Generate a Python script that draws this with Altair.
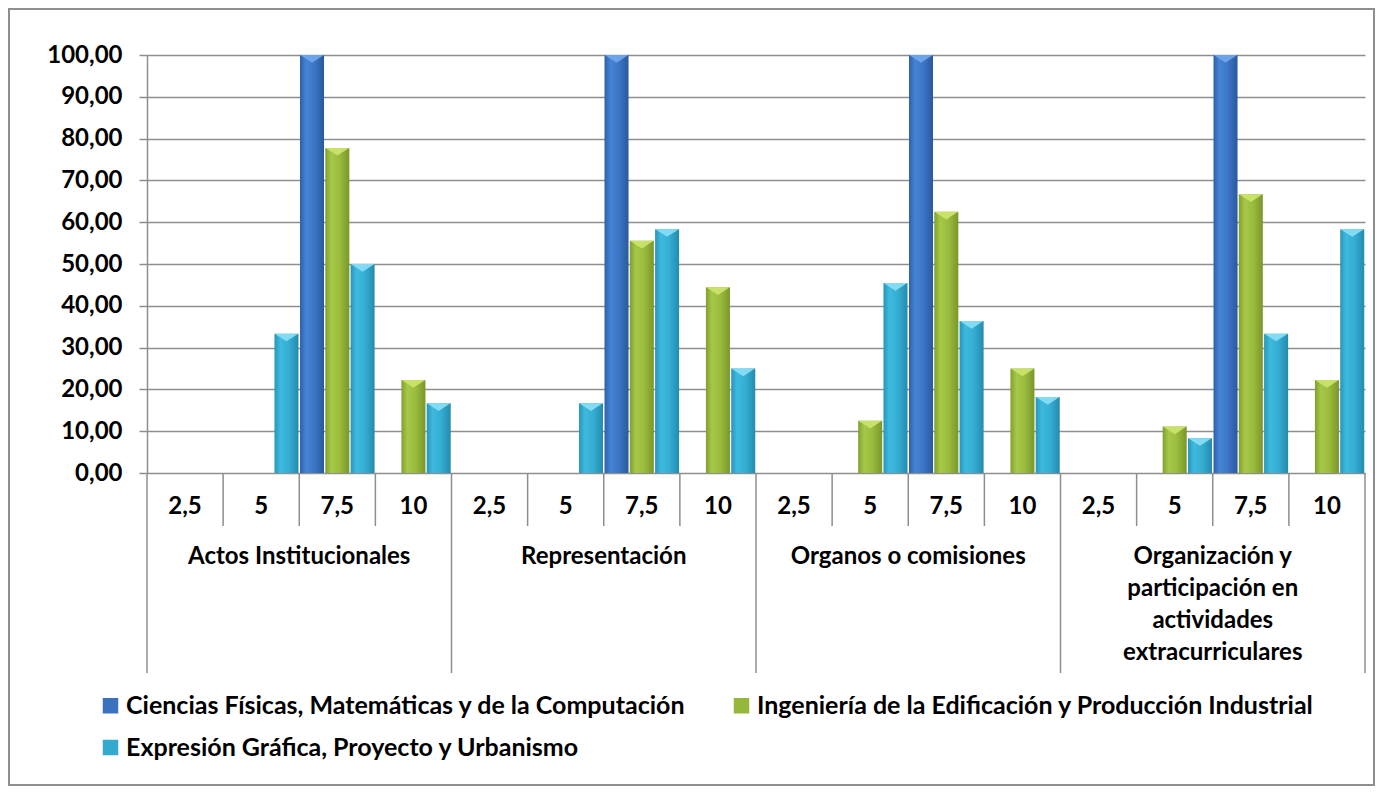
import altair as alt
import pandas as pd

groups = ["Actos Institucionales", "Representación", "Organos o comisiones",
          "Organización y participación en actividades extracurriculares"]
group_labels = ["Actos Institucionales", "Representación", "Organos o comisiones",
                "Organización y\nparticipación en\nactividades\nextracurriculares"]
scores = ["2,5", "5", "7,5", "10"]
series = ["Ciencias Físicas, Matemáticas y de la Computación",
          "Ingeniería de la Edificación y Producción Industrial",
          "Expresión Gráfica, Proyecto y Urbanismo"]

ciencias = [0, 0, 100, 0, 0, 0, 100, 0, 0, 0, 100, 0, 0, 0, 100, 0]
ingenieria = [0, 0, 77.78, 22.22, 0, 0, 55.56, 44.44, 0, 12.5, 62.5, 25, 0, 11.11, 66.67, 22.22]
expresion = [0, 33.33, 50, 16.67, 0, 16.67, 58.33, 25, 0, 45.45, 36.36, 18.18, 0, 8.33, 33.33, 58.33]

y_ticks = [0, 10, 20, 30, 40, 50, 60, 70, 80, 90, 100]

legend_colors = ["#3B72C0", "#95B73B", "#33AACF"]
top_colors = ["#6EA6EA", "#C9E36C", "#86DDF3"]
gradients = [
    ["#2F5FA8", "#4584D4", "#3B76C5", "#2B589C"],
    ["#809F2E", "#A6C848", "#9ABB3D", "#7A962B"],
    ["#2796BA", "#3EBADE", "#34ADD2", "#248BAD"],
]

slots = [f"{gi}|{s}" for gi in range(len(groups)) for s in scores]
rows = []
for name, vals in zip(series, [ciencias, ingenieria, expresion]):
    for slot, v in zip(slots, vals):
        rows.append({"slot": slot, "series": name, "value": v})
df = pd.DataFrame(rows)

sub_df = pd.DataFrame({"slot": slots, "label": scores * len(groups)})
grp_df = pd.DataFrame({"slot": [f"{gi}|7,5" for gi in range(len(groups))], "label": group_labels})
short_df = pd.DataFrame({"slot": [f"{gi}|{s}" for gi in range(len(groups)) for s in scores[1:]]})
long_df = pd.DataFrame({"slot": [f"{gi}|2,5" for gi in range(len(groups))]})
end_df = pd.DataFrame({"slot": [slots[-1]]})

W, H = 1218, 418
FONT = "Lato"
GRAY = "#8E8E8E"
FS = 24

x_scale = alt.Scale(domain=slots, paddingInner=0, paddingOuter=0)
x_enc = alt.X("slot:N", scale=x_scale, axis=None)
x_start = alt.X("slot:N", bandPosition=0, scale=x_scale, axis=None)
x_end = alt.X("slot:N", bandPosition=1, scale=x_scale, axis=None)
xo_enc = alt.XOffset("series:N", scale=alt.Scale(domain=series, paddingInner=0.05, paddingOuter=0.03))
y_enc = alt.Y("value:Q", scale=alt.Scale(domain=[0, 100], nice=False, zero=True),
              axis=alt.Axis(values=y_ticks, title=None,
                            labelExpr="replace(format(datum.value, '.2f'), '.', ',')",
                            labelFont=FONT, labelFontWeight="bold", labelFontSize=FS,
                            labelColor="black", labelPadding=17, tickSize=8,
                            tickColor=GRAY, tickWidth=1.5, domainColor=GRAY, domainWidth=1.5,
                            grid=True, gridColor=GRAY, gridWidth=1.5))

base = alt.Chart(df)
layers = []
for i, name in enumerate(series):
    g = gradients[i]
    grad = alt.Gradient(gradient="linear", x1=0, x2=1, y1=0, y2=0,
                        stops=[alt.GradientStop(offset=0, color=g[0]),
                               alt.GradientStop(offset=0.25, color=g[1]),
                               alt.GradientStop(offset=0.6, color=g[2]),
                               alt.GradientStop(offset=1, color=g[3])])
    sub = base.transform_filter((alt.datum.series == name) & (alt.datum.value > 0))
    layers.append(sub.mark_bar(color=grad).encode(x=x_enc, xOffset=xo_enc, y=y_enc))
    layers.append(sub.mark_point(shape="M-1,0L1,0L0,0.65Z", filled=True, size=560,
                                 color=top_colors[i], opacity=0.95)
                  .encode(x=x_enc, xOffset=xo_enc, y=y_enc))

legend_layer = base.transform_filter(alt.datum.value > 0).mark_point(
    opacity=0, filled=True, shape="square").encode(
    x=x_enc, xOffset=xo_enc, y=y_enc,
    color=alt.Color("series:N", scale=alt.Scale(domain=series, range=legend_colors),
                    legend=alt.Legend(orient="none", legendX=-49, legendY=638, columns=2,
                                      direction="horizontal",
                                      title=None, symbolType="square", symbolSize=240,
                                      symbolOpacity=1, symbolStrokeWidth=0,
                                      labelFont=FONT, labelFontWeight="bold",
                                      labelFontSize=25, labelColor="black", labelLimit=1000,
                                      labelOffset=3, columnPadding=43, rowPadding=16)))

sub_text = alt.Chart(sub_df).mark_text(font=FONT, fontWeight="bold", fontSize=FS,
                                       color="black", baseline="middle").encode(
    x=x_enc, y=alt.value(H + 34), text="label:N")
grp_text = alt.Chart(grp_df).mark_text(font=FONT, fontWeight="bold", fontSize=FS,
                                       color="black", baseline="top", lineBreak="\n",
                                       lineHeight=32).encode(
    x=x_start, y=alt.value(H + 72), text="label:N")

short_rules = alt.Chart(short_df).mark_rule(color=GRAY, strokeWidth=1.5).encode(
    x=x_start, y=alt.value(H), y2=alt.value(H + 53))
long_rules = alt.Chart(long_df).mark_rule(color=GRAY, strokeWidth=1.5).encode(
    x=x_start, y=alt.value(H), y2=alt.value(H + 200))
end_rule = alt.Chart(end_df).mark_rule(color=GRAY, strokeWidth=1.5).encode(
    x=x_end, y=alt.value(H), y2=alt.value(H + 200))

border = alt.Chart(pd.DataFrame({"a": [0]})).mark_rect(
    fillOpacity=0, stroke=GRAY, strokeWidth=2).encode(
    x=alt.value(-138), x2=alt.value(W + 9), y=alt.value(-46), y2=alt.value(H + 312))

chart = alt.layer(border, *layers, legend_layer, short_rules, long_rules, end_rule,
                  sub_text, grp_text).properties(
    width=W, height=H,
    autosize=alt.AutoSizeParams(type="none"),
    padding={"left": 139, "top": 47, "right": 10, "bottom": 313},
    background="white",
).configure_view(stroke=None)

chart.save("out.html", embed_options={"renderer": "svg", "actions": False})
